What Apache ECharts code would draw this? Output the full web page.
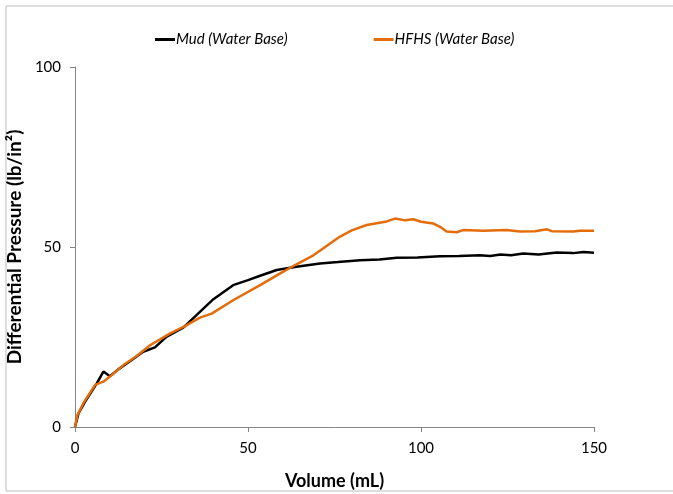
<!DOCTYPE html>
<html>
<head>
<meta charset="utf-8">
<title>Differential Pressure vs Volume</title>
<script src="https://cdn.jsdelivr.net/npm/echarts@6/dist/echarts.min.js"></script>
<style>
    html, body { margin: 0; padding: 0; background: #fff; }
    #chart { width: 673px; height: 494px; }
</style>
</head>
<body>
<div id="chart"></div>
<script type="text/javascript">
    // 数据
    var mudX = [0, 1, 2.9, 6.3, 8.2, 10.1, 12.5, 16.4, 19.7, 23.1, 26.5, 31.3, 36.1, 40, 45.7, 50, 53.5, 58.3, 64, 70.8, 76, 82.4, 88, 93, 99, 105.5, 111, 117, 120, 123, 126, 129.6, 134, 139.2, 144, 147, 150];
    var mudY = [0, 3.8, 7, 12.1, 15.4, 14.1, 16, 18.6, 20.9, 22.1, 25.1, 27.6, 32, 35.5, 39.4, 40.8, 42, 43.6, 44.5, 45.4, 45.8, 46.3, 46.5, 47, 47.1, 47.4, 47.5, 47.7, 47.5, 47.9, 47.7, 48.2, 47.9, 48.5, 48.3, 48.6, 48.4];
    var hfhsX = [0, 0.7, 2.4, 5.8, 8.2, 10.1, 14, 17.8, 21.7, 27.5, 31.8, 36.1, 39.5, 45.7, 53.5, 59.2, 64, 68.9, 72, 76.6, 80, 84.3, 90.1, 92.5, 95.4, 97.8, 100, 103.6, 105.5, 107.4, 110.3, 112.2, 118, 124.7, 128.6, 133, 136.4, 137.8, 144, 146, 150];
    var hfhsY = [0, 3.3, 6.6, 11.7, 12.6, 14, 17.2, 19.7, 22.7, 26, 28, 30.4, 31.5, 35.2, 39.4, 42.6, 45.2, 47.7, 49.8, 52.9, 54.6, 56.1, 57.1, 57.9, 57.4, 57.7, 57, 56.5, 55.6, 54.3, 54.1, 54.7, 54.5, 54.7, 54.3, 54.4, 54.9, 54.4, 54.3, 54.5, 54.5];
    var seriesNames = ['Mud (Water Base)', 'HFHS (Water Base)'];

    function pairs(xs, ys) {
        var out = [];
        for (var i = 0; i < xs.length; i++) {
            out.push([xs[i], ys[i]]);
        }
        return out;
    }

    var font = 'Lato, "Liberation Sans", sans-serif';
    var myChart = echarts.init(document.getElementById('chart'));
    var option = {
        animation: false,
        textStyle: { fontFamily: font },
        graphic: [{
            type: 'rect',
            shape: { x: 6, y: 6, width: 700, height: 485 },
            style: { fill: 'none', stroke: '#bdbdbd', lineWidth: 1 },
            silent: true
        }],
        legend: {
            left: 150,
            top: 27,
            itemGap: 86,
            itemWidth: 20,
            itemHeight: 3,
            icon: 'rect',
            textStyle: { fontSize: 15, fontStyle: 'italic', color: '#000', fontFamily: font, padding: [0, 0, 0, -4] },
            data: seriesNames
        },
        grid: { left: 75, right: 79, top: 67, bottom: 67, outerBoundsMode: 'none', containLabel: false },
        xAxis: {
            type: 'value',
            min: 0,
            max: 150,
            interval: 50,
            name: 'Volume (mL)',
            nameLocation: 'middle',
            nameGap: 45,
            nameTextStyle: { fontSize: 18, fontWeight: 'bold', color: '#000', fontFamily: font },
            axisLine: { lineStyle: { color: '#868686', width: 1 } },
            axisTick: { show: true, length: 5, lineStyle: { color: '#868686' } },
            axisLabel: { fontSize: 15, color: '#000', margin: 14 },
            splitLine: { show: false }
        },
        yAxis: {
            type: 'value',
            min: 0,
            max: 100,
            interval: 50,
            name: 'Differential Pressure (lb/in²)',
            nameLocation: 'middle',
            nameGap: 45,
            nameTextStyle: { fontSize: 19, fontWeight: 'bold', color: '#000', fontFamily: font },
            axisLine: { show: true, lineStyle: { color: '#868686', width: 1 } },
            axisTick: { show: true, length: 5, lineStyle: { color: '#868686' } },
            axisLabel: { fontSize: 15, color: '#000', margin: 14 },
            splitLine: { show: false }
        },
        series: [
            {
                name: seriesNames[0],
                type: 'line',
                showSymbol: false,
                color: '#000000',
                lineStyle: { width: 2.5, color: '#000000' },
                data: pairs(mudX, mudY)
            },
            {
                name: seriesNames[1],
                type: 'line',
                showSymbol: false,
                color: '#e46c0a',
                lineStyle: { width: 2.5, color: '#e46c0a' },
                data: pairs(hfhsX, hfhsY)
            }
        ]
    };
    myChart.setOption(option);
</script>
</body>
</html>
